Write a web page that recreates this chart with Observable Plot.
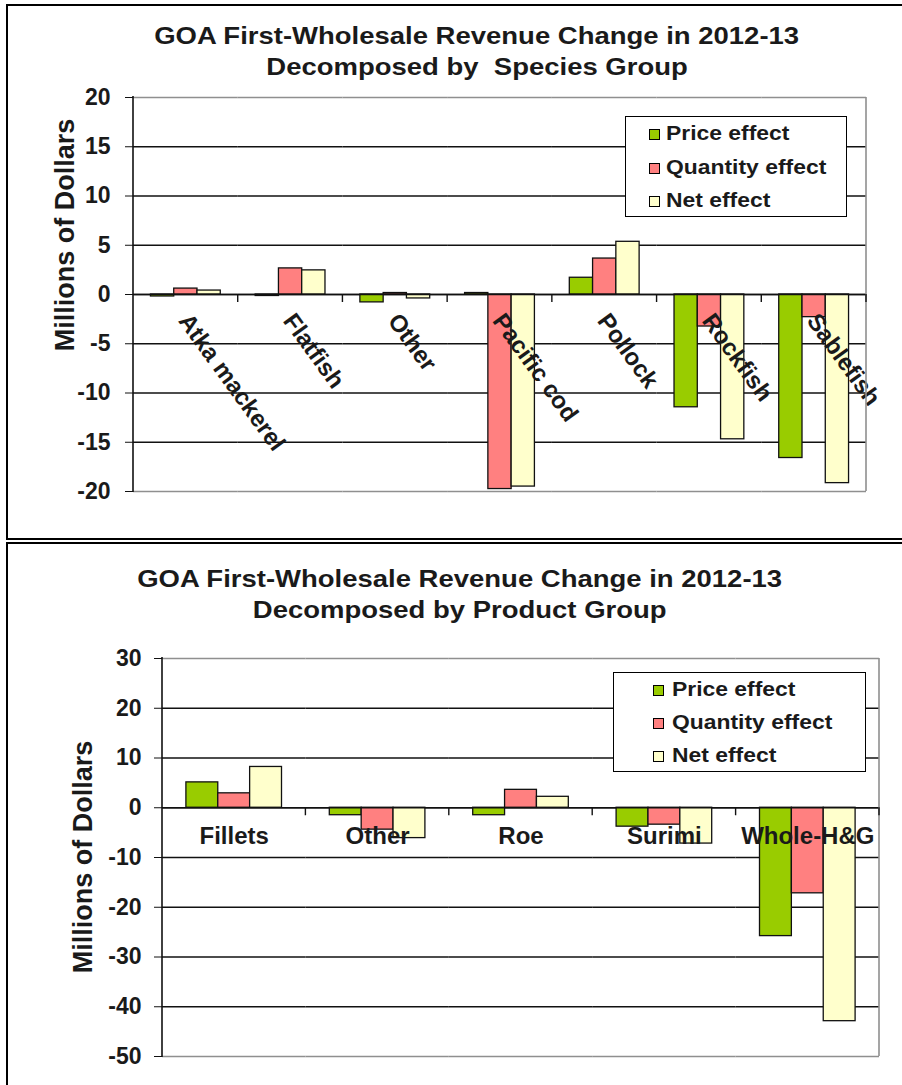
<!DOCTYPE html>
<html><head><meta charset="utf-8">
<script src="https://cdn.jsdelivr.net/npm/d3@7"></script>
<script src="https://cdn.jsdelivr.net/npm/@observablehq/plot@0.6"></script>
<style>
html,body{margin:0;padding:0;background:#fff;overflow:hidden;width:902px;height:1085px;}
body{position:relative;font-family:"Liberation Sans",Arial,sans-serif;}
.panel{position:absolute;border:2px solid #000;box-sizing:border-box;}
.title{position:absolute;width:902px;text-align:center;font-weight:bold;color:#1a1a1a;font-size:24px;line-height:31px;white-space:pre;}
.title span{display:inline-block;transform:scaleX(1.145);}
.ylab{position:absolute;font-weight:bold;font-size:27px;color:#1a1a1a;white-space:nowrap;transform:translate(-50%,-50%) rotate(-90deg);}
.chart{position:absolute;left:0;}
.chart svg{overflow:visible;}
.legend{position:absolute;border:1.5px solid #000;background:#fff;box-sizing:border-box;}
.legend .sw{position:absolute;width:11px;height:11px;border:1px solid #000;box-sizing:border-box;}
.legend .lt{position:absolute;font-weight:bold;font-size:21px;line-height:21px;color:#1a1a1a;white-space:nowrap;transform:scaleX(1.09);transform-origin:left center;}
</style></head><body>
<script>
// ---------- data ----------
const seriesNames = ["Price effect", "Quantity effect", "Net effect"];
const seriesColors = ["#99CC00", "#FF8080", "#FFFFCC"];

const speciesGroups = ["Atka mackerel", "Flatfish", "Other", "Pacific cod", "Pollock", "Rockfish", "Sablefish"];
const speciesPrice    = [-0.2, -0.15, -0.8, 0.15, 1.7, -11.45, -16.6];
const speciesQuantity = [0.6, 2.65, 0.15, -19.75, 3.65, -3.25, -2.3];
const speciesNet      = [0.4, 2.45, -0.4, -19.5, 5.35, -14.7, -19.15];
const speciesTicks    = [20, 15, 10, 5, 0, -5, -10, -15, -20];

const productGroups = ["Fillets", "Other", "Roe", "Surimi", "Whole-H&G"];
const productPrice    = [5.1, -1.5, -1.5, -3.8, -25.8];
const productQuantity = [2.9, -4.4, 3.6, -3.4, -17.2];
const productNet      = [8.2, -6.1, 2.2, -7.2, -42.9];
const productTicks    = [30, 20, 10, 0, -10, -20, -30, -40, -50];

const titleLine1 = "GOA First-Wholesale Revenue Change in 2012-13";
const speciesTitle2 = "Decomposed by  Species Group";
const productTitle2 = "Decomposed by Product Group";
const yLabel = "Millions of Dollars";

function rows(cats, price, qty, net) {
  return cats.flatMap((c, i) => [
    {cat: c, series: seriesNames[0], value: price[i]},
    {cat: c, series: seriesNames[1], value: qty[i]},
    {cat: c, series: seriesNames[2], value: net[i]}
  ]);
}

function el(tag, cls, parent, css) {
  const e = document.createElement(tag);
  if (cls) e.className = cls;
  Object.assign(e.style, css || {});
  (parent || document.body).appendChild(e);
  return e;
}

function makeChart(o) {
  const yMax = d3.max(o.ticks), yMin = d3.min(o.ticks);
  const inner = o.ticks.filter(t => t !== yMax && t !== yMin);
  const data = rows(o.cats, o.price, o.qty, o.net);
  const plot = Plot.plot({
    width: 902, height: o.height,
    marginLeft: o.ml, marginRight: o.mr, marginTop: o.mt, marginBottom: o.mb,
    style: {fontFamily: "'Liberation Sans', Arial, sans-serif", fontSize: "23px", fontWeight: "bold", color: "#1a1a1a", background: "transparent", overflow: "visible"},
    fx: {domain: o.cats, padding: 0, axis: null, round: false},
    x: {domain: seriesNames, paddingInner: 0, paddingOuter: 0.75, axis: null, round: false},
    y: {domain: [yMin, yMax], axis: null},
    color: {domain: seriesNames, range: seriesColors},
    marks: [
      Plot.ruleY(inner, {stroke: "#111", strokeWidth: 1.4}),
      Plot.ruleY([yMax, yMin], {stroke: "#8f8f8f", strokeWidth: 1.6}),
      Plot.barY(data, {fx: "cat", x: "series", y: "value", fill: "series", stroke: "#111", strokeWidth: 1.3}),
      Plot.ruleY([0], {stroke: "#111", strokeWidth: 1.6}),
      Plot.text(o.cats, {fx: d => d, y: () => 0, text: d => d, rotate: o.rotate, textAnchor: o.anchor,
        dx: o.ldx, dy: o.ldy, fontSize: o.lfs, fontWeight: "bold", fill: "#1a1a1a"}),
      Plot.axisY(o.ticks, {label: null, tickSize: 8, tickPadding: o.tp, tickFormat: d => String(d), fontSize: 23, fontWeight: "bold", fill: "#1a1a1a", stroke: "#111"})
    ]
  });
  // axis line, right border and category tick marks, from Plot's own scales
  const svg = d3.select(plot);
  const fx = plot.scale("fx"), y = plot.scale("y");
  const y0 = y.apply(0), yT = y.apply(yMax), yB = y.apply(yMin);
  const left = fx.apply(fx.domain[0]);
  const right = fx.apply(fx.domain[fx.domain.length - 1]) + fx.bandwidth;
  const g = svg.append("g");
  g.append("line").attr("x1", right).attr("x2", right).attr("y1", yT).attr("y2", yB).attr("stroke", "#8f8f8f").attr("stroke-width", 1.6);
  g.append("line").attr("x1", left).attr("x2", left).attr("y1", yT - 1).attr("y2", yB + 1).attr("stroke", "#111").attr("stroke-width", 1.6);
  fx.domain.forEach(c => {
    const xe = fx.apply(c) + fx.bandwidth;
    g.append("line").attr("x1", xe).attr("x2", xe).attr("y1", y0).attr("y2", y0 + 8).attr("stroke", "#111").attr("stroke-width", 1.4);
  });
  const wrap = el("div", "chart", document.body, {top: o.top + "px"});
  wrap.appendChild(plot);
}

function title(lines, left, top) {
  lines.forEach((t, i) => {
    const d = el("div", "title", document.body, {left: left + "px", top: (top + i * 31) + "px"});
    const s = el("span", null, d);
    s.textContent = t;
  });
}

function ylab(cx, cy) {
  const d = el("div", "ylab", document.body, {left: cx + "px", top: cy + "px"});
  d.textContent = yLabel;
}

function legend(box, swX, txX, baselines) {
  const L = el("div", "legend", document.body, {left: box[0] + "px", top: box[1] + "px", width: box[2] + "px", height: box[3] + "px"});
  seriesNames.forEach((n, i) => {
    el("div", "sw", L, {left: (swX - box[0]) + "px", top: (baselines[i] - 11 - box[1]) + "px", background: seriesColors[i]});
    const t = el("div", "lt", L, {left: (txX - box[0]) + "px", top: (baselines[i] - 17.8 - box[1]) + "px"});
    t.textContent = n;
  });
}

// panels
el("div", "panel", document.body, {left: "6px", top: "4px", width: "910px", height: "536px"});
el("div", "panel", document.body, {left: "6px", top: "542px", width: "910px", height: "560px"});

// top chart
title([titleLine1, speciesTitle2], 26, 20);
makeChart({cats: speciesGroups, price: speciesPrice, qty: speciesQuantity, net: speciesNet, ticks: speciesTicks,
  top: 84, height: 456, ml: 133, mr: 36, mt: 13, mb: 49, tp: 15,
  rotate: 54, anchor: "start", ldx: -2, ldy: 22, lfs: 24});
ylab(65, 235);
legend([625, 116, 222, 101], 648, 665, [139, 173, 206]);

// bottom chart
title([titleLine1, productTitle2], 9, 563);
makeChart({cats: productGroups, price: productPrice, qty: productQuantity, net: productNet, ticks: productTicks,
  top: 640, height: 445, ml: 162, mr: 23, mt: 18, mb: 29, tp: 13,
  rotate: 0, anchor: "middle", ldx: 0, ldy: 29, lfs: 24});
ylab(83, 857);
legend([613, 672, 253, 100], 652, 671, [695, 728, 761]);
</script>
</body></html>
